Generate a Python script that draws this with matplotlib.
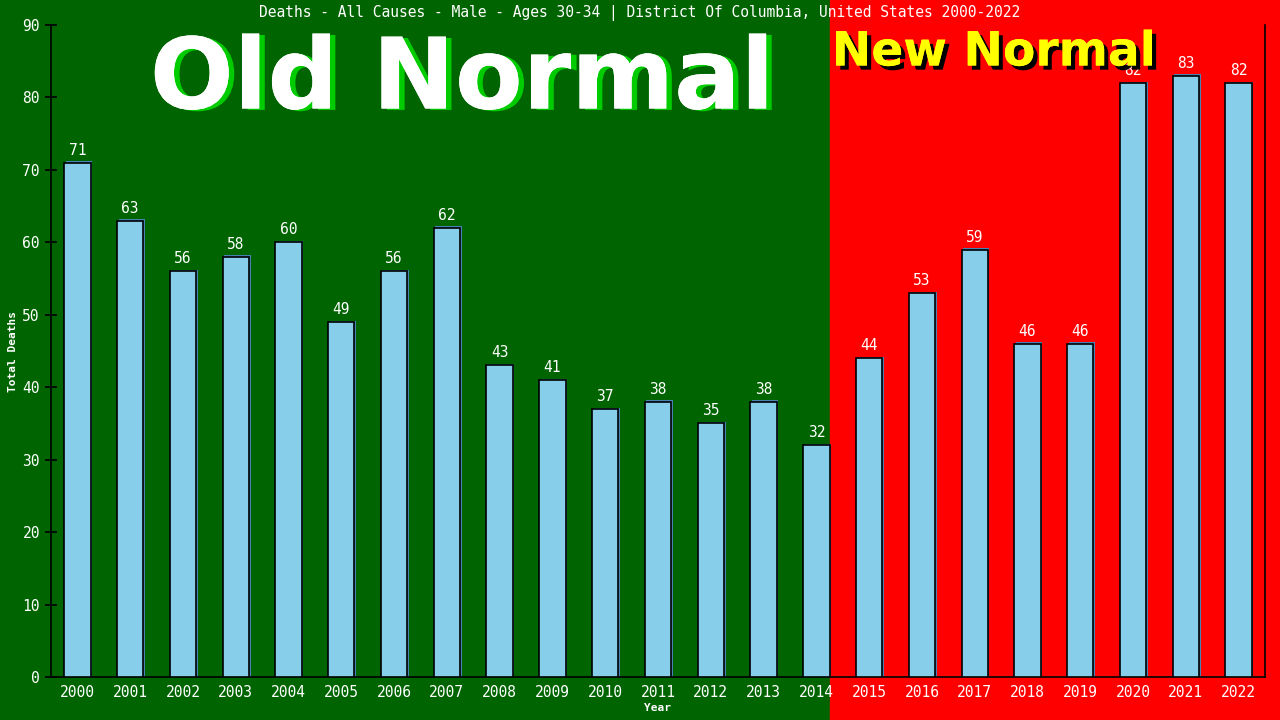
import matplotlib
matplotlib.use("Agg")
import matplotlib.pyplot as plt
import matplotlib.patheffects as pe
from matplotlib.patches import Rectangle

years = list(range(2000, 2023))
deaths = [71, 63, 56, 58, 60, 49, 56, 62, 43, 41, 37, 38, 35, 38, 32,
          44, 53, 59, 46, 46, 82, 83, 82]
title = "Deaths - All Causes - Male - Ages 30-34 | District Of Columbia, United States 2000-2022"

mono = "DejaVu Sans Mono"

fig = plt.figure(figsize=(12.8, 7.2), dpi=100)
# fondo partido: verde (old) y rojo (new)
split = 830 / 1280
fig.patches.append(Rectangle((0, 0), split, 1, transform=fig.transFigure,
                             color="#006400", zorder=-10))
fig.patches.append(Rectangle((split, 0), 1 - split, 1, transform=fig.transFigure,
                             color="#ff0000", zorder=-10))

ax = fig.add_axes([51 / 1280, 43 / 720, (1265 - 51) / 1280, (677 - 25) / 720])
ax.patch.set_alpha(0)

x = list(range(len(years)))
# sombra azul detras de cada barra
ax.bar([i + 0.03 for i in x], [d + 0.2 for d in deaths], width=0.5,
       color="#4682b4", zorder=2)
ax.bar(x, deaths, width=0.5, color="#87ceeb", edgecolor="black",
       linewidth=1.2, zorder=3)

for i, d in zip(x, deaths):
    ax.text(i, d + 0.7, str(d), ha="center", va="bottom", color="white",
            fontsize=10.5, family=mono, zorder=5)

ax.set_xlim(-0.5, 22.5)
ax.set_ylim(0, 90)
ax.set_yticks(range(0, 91, 10))
ax.set_xticks(x)
ax.set_xticklabels([str(y) for y in years])
ax.tick_params(axis="x", length=0, colors="white", labelsize=10.5, pad=6)
ax.tick_params(axis="y", direction="inout", length=9, width=1.2,
               colors="black", labelcolor="white", labelsize=10.5)
for lab in ax.get_xticklabels() + ax.get_yticklabels():
    lab.set_family(mono)

ax.spines["top"].set_visible(False)
for s in ("left", "bottom", "right"):
    ax.spines[s].set_color("black")
    ax.spines[s].set_linewidth(1.2)

ax.set_ylabel("Total Deaths", color="white", fontsize=8, family=mono,
              fontweight="bold", labelpad=3)
ax.set_xlabel("Year", color="white", fontsize=8, family=mono,
              fontweight="bold", labelpad=2)

fig.text(0.5, 1 - 13 / 720, title, ha="center", va="center", color="white",
         fontsize=10.5, family=mono)

fig.text(462 / 1280, 1 - 81 / 720, "Old Normal", ha="center", va="center",
         color="white", fontsize=71, fontweight="bold", family="DejaVu Sans",
         path_effects=[pe.withSimplePatchShadow(offset=(4, -1),
                                                shadow_rgbFace="#00cc00",
                                                alpha=1.0),
                       pe.Normal()])
fig.text(994 / 1280, 1 - 53 / 720, "New Normal", ha="center", va="center",
         color="#ffff00", fontsize=34, fontweight="bold", family="DejaVu Sans",
         path_effects=[pe.withSimplePatchShadow(offset=(3, -3),
                                                shadow_rgbFace="black",
                                                alpha=1.0),
                       pe.Normal()])

fig.savefig("out.png", dpi=100)
